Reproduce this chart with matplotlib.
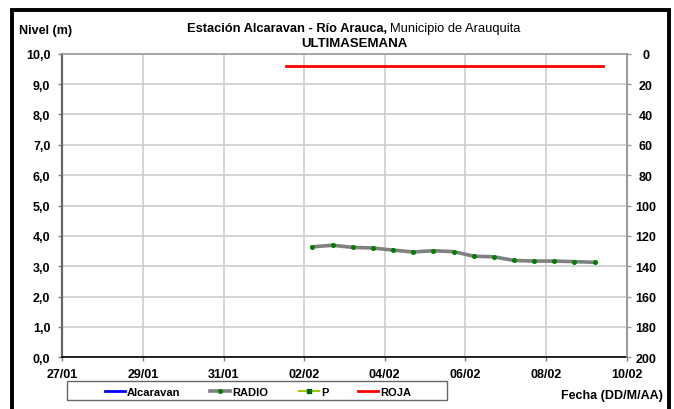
import matplotlib
matplotlib.use("Agg")
import matplotlib.pyplot as plt
import matplotlib.dates as mdates
from matplotlib.patches import Rectangle
from matplotlib.lines import Line2D
import pandas as pd

plt.rcParams['font.family'] = ['Liberation Sans', 'DejaVu Sans']

# ---------------- data ----------------
radio_dates = pd.date_range("2021-02-02 05:00", periods=15, freq="12h")
radio_vals = [3.64, 3.69, 3.62, 3.60, 3.53, 3.47, 3.51, 3.48,
              3.33, 3.31, 3.19, 3.17, 3.17, 3.15, 3.13]
alcaravan_dates = []
alcaravan_vals = []
p_dates = []
p_vals = []
roja_dates = pd.to_datetime(["2021-02-01 13:30", "2021-02-09 10:00"])
roja_vals = [9.6, 9.6]

x_start = pd.Timestamp("2021-01-27")
x_end = pd.Timestamp("2021-02-10")
left_ticks = [0, 1, 2, 3, 4, 5, 6, 7, 8, 9, 10]
left_labels = ["0,0", "1,0", "2,0", "3,0", "4,0", "5,0", "6,0", "7,0", "8,0", "9,0", "10,0"]
right_ticks = [0, 20, 40, 60, 80, 100, 120, 140, 160, 180, 200]
right_labels = ["0", "20", "40", "60", "80", "100", "120", "140", "160", "180", "200"]

# ---------------- figure ----------------
W, H = 674, 410
fig = plt.figure(figsize=(W / 100, H / 100), dpi=100)

def fx(px):
    return px / W

def fy(py):
    return (H - py) / H

L, R, T, B = 62.3, 626.5, 54.7, 358.3
ax = fig.add_axes([fx(L), fy(B), fx(R - L), (B - T) / H])

ax.plot(alcaravan_dates, alcaravan_vals, color="#0000ff", lw=2, label="Alcaravan")
ax.plot(radio_dates, radio_vals, color="#808080", lw=2.6, marker="o", ms=2.6,
        mfc="#008000", mec="#008000", label="RADIO", zorder=3)
ax.plot(p_dates, p_vals, color="#99cc00", lw=1.5, marker="s", ms=2.5,
        mfc="#006600", mec="#006600", label="P")
ax.plot(roja_dates, roja_vals, color="#ff0000", lw=2, label="ROJA", zorder=3)

ax.set_xlim(x_start, x_end)
ax.set_ylim(0, 10)
ax.xaxis.set_major_locator(mdates.DayLocator(interval=2))
ax.xaxis.set_major_formatter(mdates.DateFormatter("%d/%m"))
ax.set_yticks(left_ticks)
ax.set_yticklabels(left_labels)
ax.grid(True, color="#cccccc", lw=1.2)
ax.set_axisbelow(True)

for lab in ax.get_xticklabels() + ax.get_yticklabels():
    lab.set_fontweight("bold")
    lab.set_fontsize(9)
ax.tick_params(axis="y", length=3, width=1, color="#808080", pad=5.5)
ax.tick_params(axis="x", length=3, width=1, color="#808080", pad=4.5)

ax.spines["left"].set_color("#666666")
ax.spines["left"].set_linewidth(1.6)
ax.spines["bottom"].set_color("#000000")
ax.spines["bottom"].set_linewidth(1.2)
ax.spines["top"].set_color("#999999")
ax.spines["top"].set_linewidth(1.2)
ax.spines["right"].set_color("#999999")
ax.spines["right"].set_linewidth(1.2)

ax2 = ax.twinx()
ax2.set_ylim(200, 0)
ax2.set_yticks(right_ticks)
ax2.set_yticklabels(right_labels)
ax2.tick_params(axis="y", length=3, width=1, color="#999999", pad=11)
for lab in ax2.get_yticklabels():
    lab.set_fontweight("bold")
    lab.set_fontsize(9)
    lab.set_horizontalalignment("center")
ax2.spines["right"].set_color("#999999")
ax2.spines["right"].set_linewidth(1.2)
for s in ["left", "top", "bottom"]:
    ax2.spines[s].set_visible(False)

# ---------------- texts ----------------
fig.text(fx(19), fy(31), "Nivel (m)", fontsize=9, fontweight="bold", va="center", ha="left")
fig.text(fx(387), fy(29), "Estación Alcaravan - Río Arauca,", fontsize=9.3,
         fontweight="bold", va="center", ha="right")
fig.text(fx(390), fy(29), "Municipio de Arauquita", fontsize=9.3, va="center", ha="left")
fig.text(fx(354), fy(44), "ULTIMASEMANA", fontsize=9.5, fontweight="bold", va="center", ha="center")
fig.text(fx(663), fy(396), "Fecha (DD/M/AA)", fontsize=9, fontweight="bold", va="center", ha="right")

# ---------------- legend ----------------
handles = [
    Line2D([], [], color="#0000ff", lw=2),
    Line2D([], [], color="#808080", lw=2.6, marker="o", ms=2.6, mfc="#008000", mec="#008000"),
    Line2D([], [], color="#99cc00", lw=1.5, marker="s", ms=2.3, mfc="#006600", mec="#006600"),
    Line2D([], [], color="#ff0000", lw=2),
]
leg = fig.legend(handles, ["Alcaravan", "RADIO", "P", "ROJA"], ncol=4, frameon=False,
                 loc="center", bbox_to_anchor=(fx(258), fy(393)),
                 prop={"weight": "bold", "size": 8},
                 handlelength=1.8, handletextpad=0.2, columnspacing=2.7,
                 borderpad=0, borderaxespad=0)
fig.patches.append(Rectangle((fx(67), fy(401)), fx(447 - 67), (401 - 382) / H,
                             transform=fig.transFigure, fill=False,
                             edgecolor="#666666", lw=1.0))

# outer black border
fig.patches.append(Rectangle((fx(12.5), -0.1), fx(669 - 12.5), fy(10.5) + 0.1,
                             transform=fig.transFigure, fill=False,
                             edgecolor="black", lw=2.8))

fig.savefig("out.png", dpi=100)
